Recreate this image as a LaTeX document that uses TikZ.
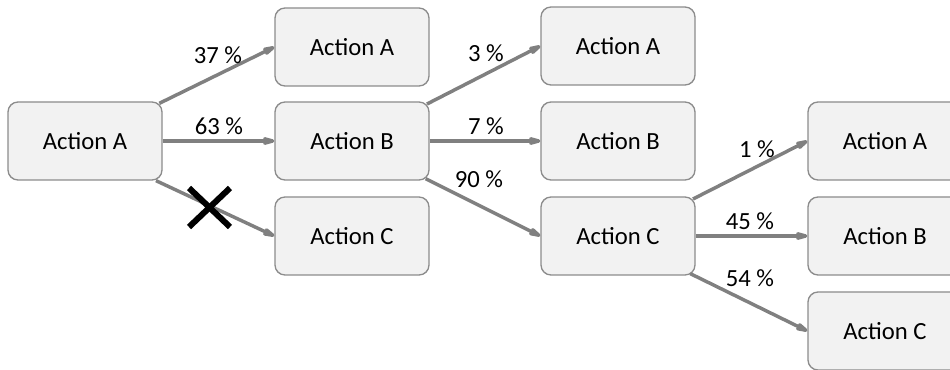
\documentclass[tikz,border=0pt]{standalone}
\usepackage{fontspec}
\setmainfont{Carlito}
\usetikzlibrary{arrows.meta}
\definecolor{boxfill}{RGB}{242,242,242}
\definecolor{boxline}{RGB}{140,140,140}
\definecolor{arrowgray}{RGB}{128,128,128}
\definecolor{txt}{RGB}{0,0,0}
\tikzset{
  actbox/.style={draw=boxline, fill=boxfill, line width=1pt, rounded corners=7.5pt,
    minimum width=115.5pt, minimum height=58.5pt, inner sep=0pt,
    font=\fontsize{18.5}{22}\selectfont, text=txt},
  conn/.style={draw=arrowgray, line width=2.6pt,
    -{Stealth[length=13.5pt,width=7pt,inset=2pt,round]}},
  pct/.style={anchor=base, inner sep=0pt, font=\fontsize{18.5}{22}\selectfont, text=txt},
  cross/.style={draw=black, line width=4.5pt}
}
\begin{document}
\begin{tikzpicture}[x=0.75pt,y=-0.75pt]
\useasboundingbox (0,0) rectangle (950,370);
% column 1
\node[actbox] (s) at (85,141) {Action A};
% column 2
\node[actbox] (a2) at (352,47) {Action A};
\node[actbox] (b2) at (352,141) {Action B};
\node[actbox] (c2) at (352,236) {Action C};
% column 3
\node[actbox] (a3) at (618,46) {Action A};
\node[actbox] (b3) at (618,141) {Action B};
\node[actbox] (c3) at (618,236) {Action C};
% column 4
\node[actbox] (a4) at (885,141) {Action A};
\node[actbox] (b4) at (885,236) {Action B};
\node[actbox] (c4) at (885,331) {Action C};
% connectors
\draw[conn] ([xshift=-2.5pt,yshift=-1.5pt]s.north east) -- (a2.west);
\draw[conn] (s.east) -- (b2.west);
\draw[conn] ([xshift=-5pt,yshift=0pt]s.south east) -- (c2.west);
\draw[conn] ([xshift=-2pt,yshift=-2pt]b2.north east) -- (a3.west);
\draw[conn] (b2.east) -- (b3.west);
\draw[conn] ([xshift=-3pt,yshift=1.5pt]b2.south east) -- (c3.west);
\draw[conn] ([xshift=-2pt,yshift=-2pt]c3.north east) -- (a4.west);
\draw[conn] (c3.east) -- (b4.west);
\draw[conn] ([xshift=-4pt,yshift=1.5pt]c3.south east) -- (c4.west);
% labels
\node[pct] (l1) at (218,64) {37 \%};
\node[pct] (l2) at (219,135) {63 \%};
\node[pct] (l3) at (486,62) {3 \%};
\node[pct] (l4) at (486,135) {7 \%};
\node[pct] (l5) at (479,188) {90 \%};
\node[pct] (l6) at (757,158) {1 \%};
\node[pct] (l7) at (750,230) {45 \%};
\node[pct] (l8) at (750,287) {54 \%};
% cross
\coordinate (x1) at (189,188);
\coordinate (x2) at (230,227);
\coordinate (x3) at (230,188);
\coordinate (x4) at (189,227);
\draw[cross] (x1) -- (x2);
\draw[cross] (x3) -- (x4);
\end{tikzpicture}
\end{document}
